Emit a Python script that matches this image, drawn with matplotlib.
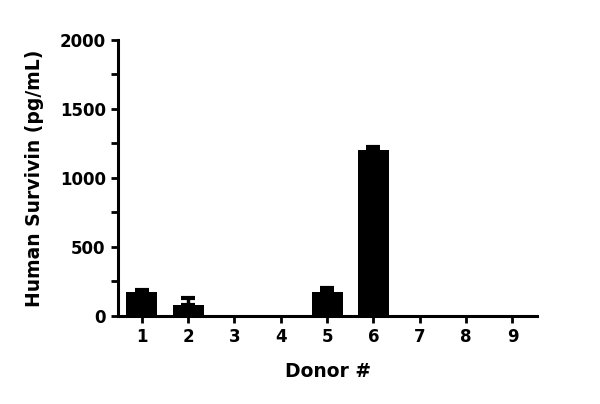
import matplotlib
matplotlib.use('Agg')
import matplotlib.pyplot as plt
import numpy as np
from matplotlib.ticker import MultipleLocator

plt.rcParams['font.family'] = ['DejaVu Sans']

donors = [1, 2, 3, 4, 5, 6, 7, 8, 9]
survivin = [176, 78, 0, 0, 174, 1205, 0, 0, 0]
sem = [14, 55, 0, 0, 28, 22, 0, 0, 0]

fig = plt.figure(figsize=(6.0, 4.04), dpi=100)
ax = fig.add_axes([0.197, 0.218, 0.698, 0.683])

ax.bar(donors, survivin, width=0.67, color='black', zorder=2)
err_idx = [i for i, e in enumerate(sem) if e > 0]
ax.errorbar([donors[i] for i in err_idx], [survivin[i] for i in err_idx],
            yerr=[np.zeros(len(err_idx)), [sem[i] for i in err_idx]],
            fmt='none', ecolor='black', elinewidth=2.5, capsize=5,
            capthick=3, zorder=3)

ax.set_xlim(0.49, 9.53)
ax.set_ylim(0, 2000)
ax.set_xticks(donors)
ax.yaxis.set_major_locator(MultipleLocator(500))
ax.yaxis.set_minor_locator(MultipleLocator(250))

for s in ['top', 'right']:
    ax.spines[s].set_visible(False)
for s in ['left', 'bottom']:
    ax.spines[s].set_linewidth(2.2)

ax.tick_params(axis='both', which='major', width=2, length=5, labelsize=12, pad=4)
ax.tick_params(axis='y', which='minor', width=2, length=5)
for lab in ax.get_xticklabels() + ax.get_yticklabels():
    lab.set_fontweight('bold')

ax.set_xlabel('Donor #', fontsize=13.5, fontweight='bold', labelpad=11)
ax.set_ylabel('Human Survivin (pg/mL)', fontsize=13.5, fontweight='bold', labelpad=11)

plt.savefig('out.png', dpi=100)
plt.close()
